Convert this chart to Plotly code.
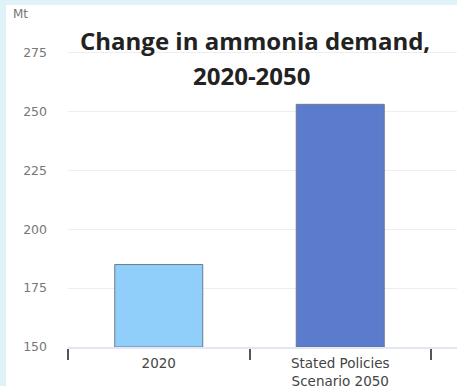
import plotly.graph_objects as go

# Ammonia demand, Mt
categories = ["2020", "Stated Policies<br>Scenario 2050"]
demand_mt = [185, 253]
bar_colors = ["#91cffb", "#5b7bcc"]
y_ticks = [150, 175, 200, 225, 250, 275]
floor_mt = 150

W, H = 457, 386
L, R, T, B = 68, 0, 30, 39
plot_w, plot_h = W - L - R, H - T - B


def px_x(x):
    return (x - L) / plot_w


def px_y(y):
    return (H - B - y) / plot_h


fig = go.Figure(
    go.Bar(
        x=categories,
        y=[v - floor_mt for v in demand_mt],
        base=floor_mt,
        width=0.485,
        marker=dict(color=bar_colors, line=dict(color="#6b7b8c", width=1)),
    )
)

cyan = "#dff2f7"
fig.update_layout(
    width=W,
    height=H,
    margin=dict(l=L, r=R, t=T, b=B, autoexpand=False),
    paper_bgcolor="white",
    plot_bgcolor="white",
    showlegend=False,
    font=dict(family="DejaVu Sans, sans-serif"),
    xaxis=dict(
        type="category",
        range=[-0.5, -0.5 + plot_w / 181.5],
        tickson="boundaries",
        showgrid=False,
        showline=True,
        linecolor="#e3e6f5",
        linewidth=2,
        ticks="outside",
        ticklen=11,
        tickwidth=2,
        tickcolor="#555555",
        ticklabelstandoff=3,
        tickfont=dict(size=13.5, color="#444444"),
        automargin=False,
    ),
    yaxis=dict(
        range=[floor_mt, floor_mt + plot_h / 58.9 * 25],
        tickvals=y_ticks,
        showgrid=True,
        gridcolor="#eeeeee",
        gridwidth=1,
        zeroline=False,
        ticks="",
        ticklabelstandoff=20,
        tickfont=dict(size=12.5, color="#777777"),
        automargin=False,
    ),
    shapes=[
        dict(type="rect", xref="paper", yref="paper",
             x0=px_x(0), x1=px_x(6), y0=px_y(H), y1=px_y(0),
             fillcolor=cyan, line=dict(width=0)),
        dict(type="rect", xref="paper", yref="paper",
             x0=px_x(0), x1=px_x(W), y0=px_y(5), y1=px_y(0),
             fillcolor=cyan, line=dict(width=0)),
    ],
    annotations=[
        dict(text="Mt", xref="paper", yref="paper", x=px_x(11), y=px_y(14),
             xanchor="left", yanchor="middle", showarrow=False,
             font=dict(size=12, color="#777777")),
        dict(text="<b>Change in ammonia demand,</b>", xref="paper", yref="paper",
             x=px_x(255), y=px_y(40), xanchor="center", yanchor="middle",
             showarrow=False, font=dict(family="Open Sans", size=24, color="#222222")),
        dict(text="<b>2020-2050</b>", xref="paper", yref="paper",
             x=px_x(252), y=px_y(75), xanchor="center", yanchor="middle",
             showarrow=False, font=dict(family="Open Sans", size=24, color="#222222")),
    ],
)

fig.write_html("out.html")
